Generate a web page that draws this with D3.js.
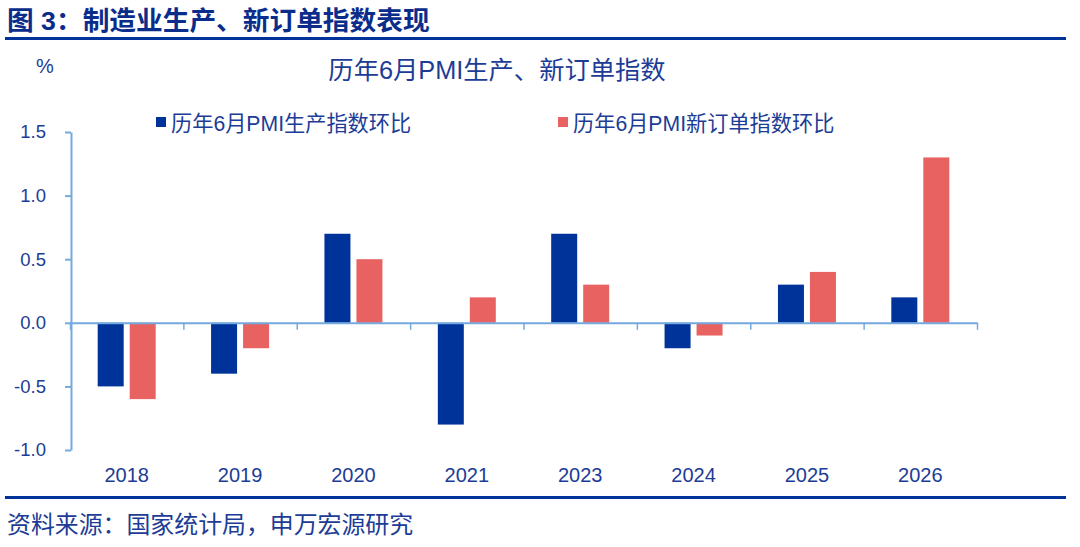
<!DOCTYPE html>
<html>
<head>
<meta charset="utf-8">
<script src="https://cdn.jsdelivr.net/npm/d3@7"></script>
<style>
  body { margin: 0; background: #fff; }
  svg { display: block; font-family: "Liberation Sans", "Noto Sans CJK SC", sans-serif; }
</style>
</head>
<body>
<div id="chart"></div>
<script>
const years = ["2018", "2019", "2020", "2021", "2023", "2024", "2025", "2026"];
const seriesNames = ["历年6月PMI生产指数环比", "历年6月PMI新订单指数环比"];
const production = [-0.5, -0.4, 0.7, -0.8, 0.7, -0.2, 0.3, 0.2];
const newOrders = [-0.6, -0.2, 0.5, 0.2, 0.3, -0.1, 0.4, 1.3];
const yTicks = [1.5, 1.0, 0.5, 0.0, -0.5, -1.0];

const width = 1080, height = 547;
const margin = { top: 132, right: 103, bottom: 97, left: 71 };
const colors = ["#003399", "#e86262"];
const textColor = "#1c3c96";
const axisColor = "#74a9df";

const svg = d3.select("#chart").append("svg")
    .attr("width", width)
    .attr("height", height);

// header / footer
svg.append("text").attr("x", 7).attr("y", 21).attr("dominant-baseline", "central")
    .attr("font-size", 26.7).attr("font-weight", "bold").attr("fill", "#0a2d8c")
    .text("图 3：制造业生产、新订单指数表现");
svg.append("rect").attr("x", 5).attr("y", 37).attr("width", 1061).attr("height", 3).attr("fill", "#003399");
svg.append("rect").attr("x", 5).attr("y", 496).attr("width", 1061).attr("height", 3).attr("fill", "#003399");
svg.append("text").attr("x", 7).attr("y", 524).attr("dominant-baseline", "central")
    .attr("font-size", 23.9).attr("fill", textColor)
    .text("资料来源：国家统计局，申万宏源研究");

svg.append("text").attr("x", 497).attr("y", 70).attr("dominant-baseline", "central")
    .attr("text-anchor", "middle").attr("font-size", 25.3).attr("fill", textColor)
    .text("历年6月PMI生产、新订单指数");
svg.append("text").attr("x", 45).attr("y", 66).attr("dominant-baseline", "central")
    .attr("text-anchor", "middle").attr("font-size", 20).attr("fill", textColor)
    .text("%");

// legend
const legendX = [156, 558];
seriesNames.forEach((name, i) => {
    const g = svg.append("g").attr("transform", `translate(${legendX[i]},117)`);
    g.append("rect").attr("width", 10).attr("height", 10).attr("fill", colors[i]);
    g.append("text").attr("x", 15).attr("y", 6).attr("dominant-baseline", "central")
        .attr("font-size", 21.2).attr("fill", textColor).text(name);
});

// scales
const x0 = d3.scaleBand().domain(years).range([70, 977]).padding(0);
const groupW = 58;
const x1 = d3.scaleBand().domain([0, 1])
    .range([x0.bandwidth() / 2 - groupW / 2, x0.bandwidth() / 2 + groupW / 2])
    .paddingInner(0.1875).paddingOuter(0);
const y = d3.scaleLinear().domain([-1.0, 1.5]).range([450, 132]);

// bars
const rows = years.map((yr, i) => ({ year: yr, values: [production[i], newOrders[i]] }));
const groups = svg.append("g").selectAll("g").data(rows).join("g")
    .attr("transform", d => `translate(${x0(d.year)},0)`);
groups.selectAll("rect").data(d => d.values.map((v, k) => ({ v, k }))).join("rect")
    .attr("x", d => x1(d.k))
    .attr("width", x1.bandwidth())
    .attr("y", d => y(Math.max(0, d.v)))
    .attr("height", d => Math.abs(y(d.v) - y(0)))
    .attr("fill", d => colors[d.k]);

// y axis
const gY = svg.append("g").attr("transform", `translate(${margin.left},0)`)
    .call(d3.axisLeft(y).tickValues(yTicks).tickFormat(d => d.toFixed(1))
        .tickSize(6).tickSizeOuter(0).tickPadding(19));
gY.select(".domain").attr("stroke", axisColor).attr("stroke-width", 2);
gY.selectAll(".tick line").attr("stroke", axisColor).attr("stroke-width", 2);
gY.selectAll(".tick text").attr("fill", textColor).attr("font-size", 18.5)
    .attr("font-family", "Liberation Sans, sans-serif");

// zero line with boundary ticks
const xb = d3.scaleLinear().domain([0, years.length]).range([70, 977]);
const gZero = svg.append("g").attr("transform", `translate(0,${y(0)})`)
    .call(d3.axisBottom(xb).tickValues(d3.range(years.length + 1)).tickFormat("")
        .tickSize(7).tickSizeOuter(0));
gZero.select(".domain").attr("stroke", axisColor).attr("stroke-width", 2);
gZero.selectAll(".tick line").attr("stroke", axisColor).attr("stroke-width", 1.5);

// category labels at the bottom
const gX = svg.append("g").attr("transform", `translate(0,${y(-1.0)})`)
    .call(d3.axisBottom(x0).tickSize(0).tickPadding(18));
gX.select(".domain").remove();
gX.selectAll(".tick text").attr("fill", textColor).attr("font-size", 20)
    .attr("font-family", "Liberation Sans, sans-serif");
</script>
</body>
</html>
